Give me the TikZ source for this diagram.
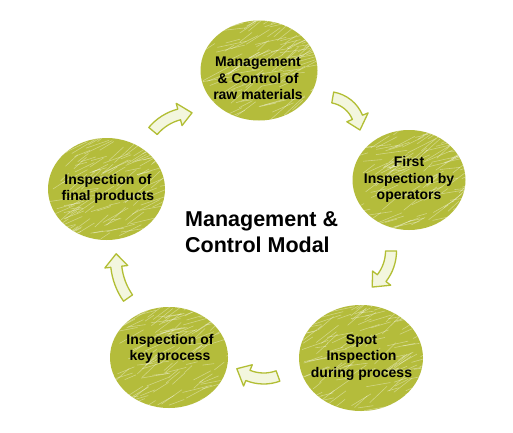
\documentclass[tikz,border=0pt]{standalone}
\usepackage{fontspec}
\setmainfont{Liberation Sans}
\usetikzlibrary{shapes.geometric,calc}
\definecolor{blobfill}{HTML}{B4BC3B}
\definecolor{arrline}{HTML}{B2BE34}
\definecolor{arrfill}{HTML}{F3F6DE}
\newcommand\bendarrow[4]{% center coordinate, radius, tail angle, tip angle
  \pgfmathsetmacro\arBase{#4+13/#2*57.2958}%
  \pgfmathsetmacro\arRi{#2-5.5}%
  \pgfmathsetmacro\arRo{#2+5.5}%
  \pgfmathsetmacro\arHi{#2-11.5}%
  \pgfmathsetmacro\arHo{#2+11.5}%
  \draw[arrowsty] ($(#1)+(#3:\arRi)$) arc[start angle=#3,end angle=\arBase,radius=\arRi]
    -- ($(#1)+(\arBase:\arHi)$) -- ($(#1)+(#4:#2)$) -- ($(#1)+(\arBase:\arHo)$)
    -- ($(#1)+(\arBase:\arRo)$) arc[start angle=\arBase,end angle=#3,radius=\arRo] -- cycle;
}
\newcommand\scribble[3]{% node, x radius, y radius
  \begin{scope}
    \clip (#1.center) ellipse[x radius=#2, y radius=#3];
    \foreach \k in {1,...,130}{%
      \pgfmathsetmacro\scX{rand*#2}%
      \pgfmathsetmacro\scY{rand*#3}%
      \pgfmathsetmacro\scA{25+rand*20}%
      \pgfmathsetmacro\scL{10+abs(rand)*22}%
      \draw[white,opacity=0.38,line width=0.6pt,line cap=round]
        ($(#1.center)+(\scX,\scY)$) -- ++(\scA:\scL);
    }
  \end{scope}
}
\begin{document}
\begin{tikzpicture}[x=1pt,y=1pt,
  blob/.style={ellipse,fill=blobfill,draw=none,inner sep=0pt},
  blobtext/.style={align=center,font=\fontsize{14}{16.5}\selectfont\bfseries,text=black,inner sep=0pt},
  arrowsty/.style={draw=arrline,fill=arrfill,line width=1.3pt,line join=round},
  titletext/.style={align=left,font=\fontsize{21.5}{26}\selectfont\bfseries,text=black,inner sep=0pt,anchor=west}]
\pgfmathsetseed{7}
\fill[white] (0,0) rectangle (513,432);
\useasboundingbox (0,0) rectangle (513,432);

% circles
\node[blob,minimum width=117pt,minimum height=100pt] (c1) at (259,361.5) {};
\node[blob,minimum width=113pt,minimum height=100pt] (c2) at (409,252) {};
\node[blob,minimum width=124pt,minimum height=106pt] (c3) at (361,74) {};
\node[blob,minimum width=118pt,minimum height=101pt] (c4) at (169,74.5) {};
\node[blob,minimum width=117pt,minimum height=102pt] (c5) at (106.5,243) {};
\scribble{c1}{58.5}{50}
\scribble{c2}{56.5}{50}
\scribble{c3}{62}{53}
\scribble{c4}{59}{50.5}
\scribble{c5}{58.5}{51}

% texts
\node[blobtext] (t1) at (258,353.5) {Management\\\& Control of\\raw materials};
\node[blobtext] (t2) at (409,252.5) {First\\Inspection by\\operators};
\node[blobtext] (t3) at (361.5,74.5) {Spot\\Inspection\\during process};
\node[blobtext] (t4) at (170,83) {Inspection of\\key process};
\node[blobtext] (t5) at (108,243) {Inspection of\\final products};
\node[titletext] (title) at (185,200.2) {Management \&\\Control Modal};

% arrows
\coordinate (a1) at (327,302);
\coordinate (a2) at (347,181);
\coordinate (a3) at (263.7,95.3);
\coordinate (a4) at (182.9,172.4);
\coordinate (a5) at (192,268.3);
\bendarrow{a1}{33}{80}{0}
\bendarrow{a2}{44}{0}{-55}
\bendarrow{a3}{41.8}{-70}{-130}
\bendarrow{a4}{67}{215}{175}
\bendarrow{a5}{50.9}{140}{90}
\end{tikzpicture}
\end{document}
